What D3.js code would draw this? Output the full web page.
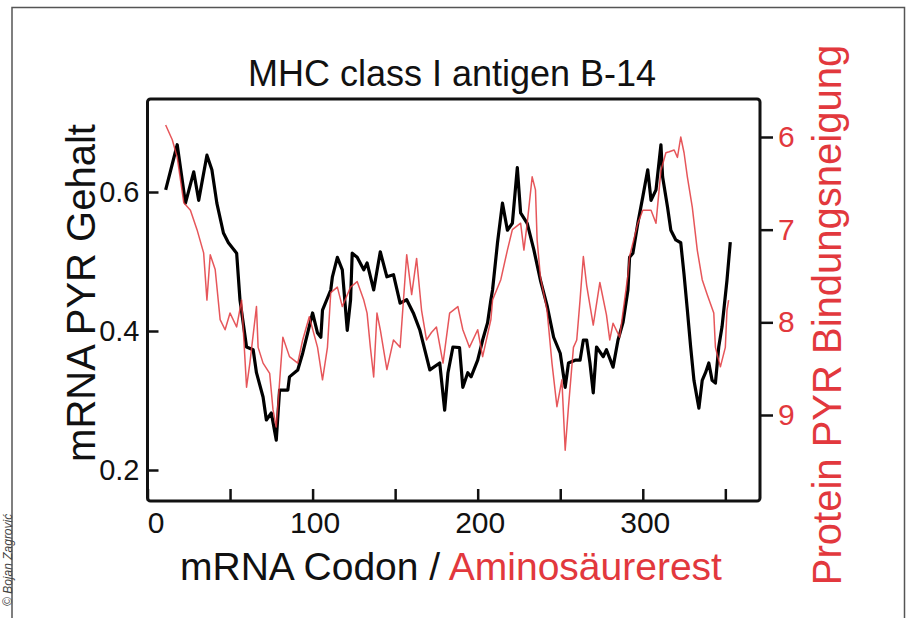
<!DOCTYPE html>
<html>
<head>
<meta charset="utf-8">
<script src="https://cdn.jsdelivr.net/npm/d3@7"></script>
<style>
  body { margin: 0; background: #fff; }
  text { font-family: Arial, "Liberation Sans", Helvetica, sans-serif; }
</style>
</head>
<body>
<div class="chart"></div>
<script>
// mRNA PYR content per codon (black line, left axis)
const mrnaCodon = [11, 18, 23, 28, 31, 36, 39, 42, 46, 49, 54, 56, 60, 64, 66, 70, 72, 75, 78, 80,
    85, 86, 91, 94, 100, 103, 105, 106, 111, 112, 115, 118, 121, 123, 124, 127, 131, 133, 137, 141,
    145, 149, 153, 157, 161, 165, 169, 171, 177, 180, 182, 185, 189, 191, 194, 196, 200, 203, 206, 208,
    209, 212, 215, 218, 221, 224, 226, 230, 234, 238, 242, 246, 250, 253, 255, 259, 262, 264, 266, 268,
    270, 272, 276, 278, 282, 285, 288, 291, 292, 294, 297, 300, 303, 305, 308, 311, 312, 315, 317, 320,
    323, 325, 327, 329, 331, 334, 336, 338, 340, 342, 344, 346, 348, 351, 353];
const mrnaValue = [0.603, 0.668, 0.584, 0.629, 0.588, 0.653, 0.632, 0.584, 0.541, 0.527, 0.512, 0.445, 0.377, 0.373, 0.340, 0.305, 0.272, 0.282, 0.243, 0.315,
    0.315, 0.334, 0.344, 0.368, 0.426, 0.397, 0.391, 0.430, 0.459, 0.478, 0.506, 0.488, 0.401, 0.445, 0.512, 0.506, 0.488, 0.498, 0.459, 0.514,
    0.478, 0.481, 0.440, 0.445, 0.426, 0.401, 0.363, 0.344, 0.354, 0.286, 0.340, 0.377, 0.376, 0.319, 0.340, 0.334, 0.358, 0.387, 0.412, 0.445,
    0.459, 0.527, 0.584, 0.545, 0.555, 0.635, 0.570, 0.555, 0.517, 0.473, 0.437, 0.391, 0.368, 0.319, 0.354, 0.358, 0.358, 0.387, 0.387, 0.354,
    0.311, 0.377, 0.363, 0.373, 0.348, 0.387, 0.412, 0.459, 0.506, 0.512, 0.555, 0.593, 0.632, 0.588, 0.603, 0.668, 0.622, 0.578, 0.545, 0.531,
    0.527, 0.481, 0.430, 0.377, 0.329, 0.289, 0.329, 0.340, 0.354, 0.329, 0.325, 0.377, 0.406, 0.473, 0.528];

// protein PYR binding propensity per residue (red line, right axis)
const protCodon = [11, 15, 18, 22, 26, 30, 34, 36, 38, 41, 44, 47, 50, 54, 57, 60, 62, 66, 67, 70,
    74, 76, 78, 82, 86, 91, 94, 98, 103, 106, 109, 111, 115, 118, 123, 127, 131, 133, 135, 137,
    139, 141, 145, 149, 153, 157, 160, 163, 166, 169, 172, 175, 179, 183, 188, 191, 195, 200, 203, 208,
    209, 214, 218, 221, 226, 228, 230, 233, 235, 236, 238, 242, 245, 248, 251, 253, 255, 258, 260, 262,
    264, 266, 270, 274, 278, 280, 282, 286, 291, 292, 297, 300, 305, 308, 311, 314, 316, 319, 321, 323,
    325, 327, 330, 333, 336, 339, 343, 344, 347, 350, 351, 352];
const protValue = [5.87, 6.03, 6.22, 6.71, 6.79, 7.00, 7.25, 7.76, 7.27, 7.43, 7.97, 8.08, 7.90, 8.05, 7.76, 8.70, 8.44, 7.83, 8.27, 8.44,
    8.55, 8.94, 9.13, 8.16, 8.37, 8.44, 8.19, 7.94, 8.27, 8.62, 8.27, 7.68, 7.62, 7.83, 7.62, 7.56, 7.76, 7.90, 8.27, 8.59,
    7.90, 8.08, 8.51, 8.19, 8.27, 7.27, 7.70, 7.31, 7.87, 8.19, 8.11, 8.05, 8.44, 7.90, 7.83, 8.08, 8.27, 8.08, 8.37, 7.97,
    7.76, 7.54, 7.22, 7.00, 6.93, 7.22, 6.93, 6.43, 6.57, 7.11, 7.51, 7.87, 8.44, 8.91, 8.62, 9.38, 8.91, 8.27, 8.19, 7.76,
    7.29, 7.60, 8.03, 7.57, 7.92, 8.19, 8.01, 8.16, 7.49, 7.29, 6.93, 6.79, 6.79, 6.93, 6.36, 6.17, 6.16, 6.14, 6.22, 6.00,
    6.17, 6.43, 6.76, 7.22, 7.54, 7.70, 7.90, 8.27, 8.48, 8.27, 7.87, 7.76];

const xTicks = [0, 50, 100, 150, 200, 250, 300, 350];
const xTickLabels = [0, 100, 200, 300];
const leftTicks = [0.2, 0.4, 0.6];
const rightTicks = [6, 7, 8, 9];

const red = "#e2383d";
const width = 910, height = 618;
const plot = {left: 147.5, right: 760, top: 99, bottom: 501};

const svg = d3.select(".chart")
    .append("svg")
    .attr("width", width)
    .attr("height", height);

// outer frame
svg.append("rect")
    .attr("x", 12).attr("y", 7.5)
    .attr("width", 892.5).attr("height", 640)
    .attr("fill", "none")
    .attr("stroke", "#555")
    .attr("stroke-width", 1.5);

// credit
svg.append("text")
    .attr("transform", "translate(11.5,606) rotate(-90)")
    .attr("font-size", "12px")
    .attr("font-style", "italic")
    .attr("fill", "#444")
    .text("© Bojan Zagrović");

const x = d3.scaleLinear().domain([0, 371]).range([plot.left, plot.right]);
const yL = d3.scaleLinear().domain([0.2, 0.6]).range([470, 192]);
const yR = d3.scaleLinear().domain([6, 9]).range([137, 415]);

// bottom ticks (inward)
svg.append("g")
    .attr("transform", "translate(0," + plot.bottom + ")")
    .call(d3.axisTop(x).tickValues(xTicks).tickSize(12).tickFormat(""))
    .call(g => g.select(".domain").remove())
    .selectAll("line").attr("stroke", "#111").attr("stroke-width", 2.5);

svg.append("g")
    .attr("transform", "translate(0," + plot.bottom + ")")
    .call(d3.axisBottom(x).tickValues(xTickLabels).tickSize(0).tickPadding(10))
    .call(g => g.select(".domain").remove())
    .selectAll("text")
    .attr("font-size", "30px")
    .attr("fill", "#111")
    .attr("dy", "0.72em")
    .attr("dx", d => d === 0 ? 8 : 2);

// left axis (ticks inward)
svg.append("g")
    .attr("transform", "translate(" + plot.left + ",0)")
    .call(d3.axisRight(yL).tickValues(leftTicks).tickSize(11).tickFormat(""))
    .call(g => g.select(".domain").remove())
    .selectAll("line").attr("stroke", "#111").attr("stroke-width", 2.5);

svg.append("g")
    .attr("transform", "translate(" + plot.left + ",0)")
    .call(d3.axisLeft(yL).tickValues(leftTicks).tickSize(0).tickPadding(8).tickFormat(d3.format(".1f")))
    .call(g => g.select(".domain").remove())
    .selectAll("text")
    .attr("font-size", "29px")
    .attr("fill", "#111");

// right axis (ticks outward)
const rAxis = svg.append("g")
    .attr("transform", "translate(" + plot.right + ",0)")
    .call(d3.axisRight(yR).tickValues(rightTicks).tickSize(13).tickPadding(5).tickFormat(d3.format("d")))
    .call(g => g.select(".domain").remove());
rAxis.selectAll("line").attr("stroke", "#111").attr("stroke-width", 2.5);
rAxis.selectAll("text").attr("font-size", "30px").attr("fill", red);

// lines
const mrna = mrnaCodon.map((c, i) => ({c: c, v: mrnaValue[i]}));
const prot = protCodon.map((c, i) => ({c: c, v: protValue[i]}));

svg.append("path")
    .datum(mrna)
    .attr("fill", "none")
    .attr("stroke", "#000")
    .attr("stroke-width", 3.2)
    .attr("stroke-linejoin", "round")
    .attr("d", d3.line().x(d => x(d.c)).y(d => yL(d.v)));

svg.append("path")
    .datum(prot)
    .attr("fill", "none")
    .attr("stroke", red)
    .attr("stroke-width", 1.5)
    .attr("stroke-opacity", 0.85)
    .attr("stroke-linejoin", "round")
    .attr("d", d3.line().x(d => x(d.c)).y(d => yR(d.v)));

// plot frame
svg.append("rect")
    .attr("x", plot.left).attr("y", plot.top)
    .attr("width", plot.right - plot.left)
    .attr("height", plot.bottom - plot.top)
    .attr("rx", 3)
    .attr("fill", "none")
    .attr("stroke", "#111")
    .attr("stroke-width", 3);

// titles
svg.append("text")
    .attr("x", 452).attr("y", 86)
    .attr("text-anchor", "middle")
    .attr("font-size", "36px")
    .attr("fill", "#111")
    .text("MHC class I antigen B-14");

svg.append("text")
    .attr("transform", "translate(95,293) rotate(-90)")
    .attr("text-anchor", "middle")
    .attr("font-size", "40px")
    .attr("fill", "#111")
    .text("mRNA PYR Gehalt");

svg.append("text")
    .attr("transform", "translate(841,315) rotate(-90)")
    .attr("text-anchor", "middle")
    .attr("font-size", "40px")
    .attr("fill", red)
    .text("Protein PYR Bindungsneigung");

const xt = svg.append("text")
    .attr("x", 451).attr("y", 580)
    .attr("text-anchor", "middle")
    .attr("font-size", "39px");
xt.append("tspan").attr("fill", "#111").text("mRNA Codon / ");
xt.append("tspan").attr("fill", red).text("Aminosäurerest");
</script>
</body>
</html>
